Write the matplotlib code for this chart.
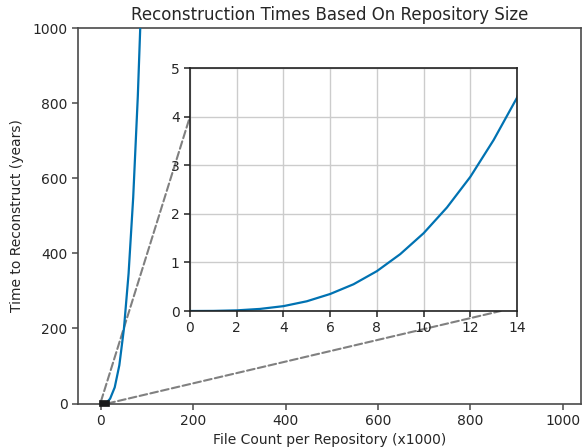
import matplotlib
matplotlib.use("Agg")
import matplotlib.pyplot as plt
from matplotlib.patches import Rectangle, ConnectionPatch

# Data (x in thousands of files, y in years)
file_counts = [0, 1, 2, 3, 4, 5, 6, 7, 8, 9, 10, 11, 12, 13, 14,
               20, 30, 40, 50, 60, 70, 80, 90]
years = [0.0, 0.002, 0.013, 0.043, 0.10, 0.20, 0.35, 0.55, 0.82, 1.17, 1.60,
         2.13, 2.76, 3.52, 4.39,
         12.8, 43.0, 102.0, 200.0, 346.0, 549.0, 819.0, 1166.0]

title = "Reconstruction Times Based On Repository Size"
xlabel = "File Count per Repository (x1000)"
ylabel = "Time to Reconstruct (years)"
main_xticks = [0, 200, 400, 600, 800, 1000]
main_yticks = [0, 200, 400, 600, 800, 1000]
inset_xticks = [0, 2, 4, 6, 8, 10, 12, 14]
inset_yticks = [0, 1, 2, 3, 4, 5]

blue = "#0072B2"
txt = "#262626"
spine_c = "#4a4a4a"

plt.rcParams["font.family"] = ["DejaVu Sans"]

fig = plt.figure(figsize=(5.86, 4.48), dpi=100)
ax = fig.add_axes([0.1331, 0.0993, 0.8584, 0.8375])
ax.plot(file_counts, years, color=blue, lw=1.6, zorder=3)
ax.set_xlim(-49.5, 1039.5)
ax.set_ylim(0, 1000)
ax.set_xticks(main_xticks)
ax.set_yticks(main_yticks)
ax.set_title(title, fontsize=12, color=txt, pad=6)
ax.set_xlabel(xlabel, fontsize=10, color=txt, labelpad=4)
ax.set_ylabel(ylabel, fontsize=10, color=txt, labelpad=6)
for s in ax.spines.values():
    s.set_color(spine_c)
    s.set_linewidth(1.2)
ax.tick_params(direction="out", length=4, width=1.1, colors=spine_c,
               labelcolor=txt, labelsize=10)

# inset
axin = fig.add_axes([0.3242, 0.3058, 0.5581, 0.5424])
axin.plot(file_counts, years, color=blue, lw=1.6)
axin.set_xlim(0, 14)
axin.set_ylim(0, 5)
axin.set_xticks(inset_xticks)
axin.set_yticks(inset_yticks)
axin.grid(True, color="#cccccc", lw=1.0)
axin.set_axisbelow(True)
for s in axin.spines.values():
    s.set_color("#222222")
    s.set_linewidth(1.2)
axin.tick_params(direction="out", length=4, width=1.1, colors="#222222",
                 labelcolor=txt, labelsize=10)

# zoom indicator
x0, x1 = inset_xticks[0], inset_xticks[-1]
y0, y1 = inset_yticks[0], inset_yticks[-1]
rect = Rectangle((x0, y0), x1 - x0, y1 - y0, fill=False, ec="#1a1a1a",
                 lw=3.4, zorder=4, clip_on=False, joinstyle="miter")
ax.add_patch(rect)
c1 = ConnectionPatch(xyA=(x0, y1), coordsA=ax.transData,
                     xyB=(0, 4), coordsB=axin.transData,
                     color="#808080", ls="--", lw=1.5, zorder=2)
c2 = ConnectionPatch(xyA=(x1, y0), coordsA=ax.transData,
                     xyB=(13.3, 0), coordsB=axin.transData,
                     color="#808080", ls="--", lw=1.5, zorder=2)
ax.add_artist(c1)
ax.add_artist(c2)

fig.savefig("out.png", dpi=100)
